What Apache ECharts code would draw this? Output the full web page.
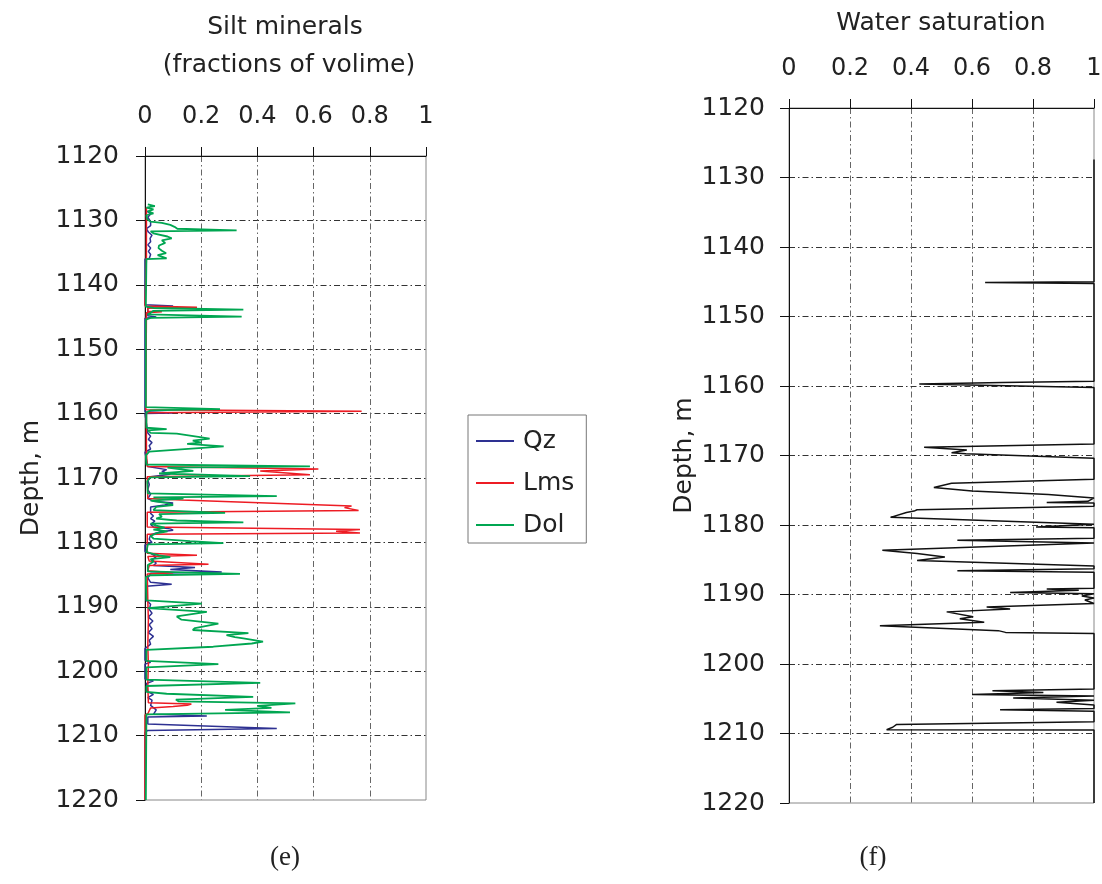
<!DOCTYPE html>
<html>
<head>
<meta charset="utf-8">
<script src="https://cdn.jsdelivr.net/npm/echarts@6/dist/echarts.min.js"></script>
<style>
html,body{margin:0;padding:0;background:#fff;}
#chart{width:1102px;height:884px;}
</style>
</head>
<body>
<div id="chart"></div>
<script>
// ---- Data (depth in m, values as fractions) ----
var depthTicks = [1120, 1130, 1140, 1150, 1160, 1170, 1180, 1190, 1200, 1210, 1220];
var fracTicks = [0, 0.2, 0.4, 0.6, 0.8, 1];
var legendNames = ['Qz', 'Lms', 'Dol'];

var qzDepth = [1128.5,1129.0,1129.5,1130.2,1130.8,1131.3,1131.8,1132.3,1132.8,1133.3,1133.8,1134.3,1134.8,1135.3,1135.9,1136.0,
  1143.1,1143.3,1143.45,1144.8,1145.0,1145.2,1159.7,1159.9,1160.0,
  1163.0,1163.5,1164.0,1164.5,1165.0,1165.5,1166.0,
  1168.2,1168.7,1169.0,1169.4,1169.8,1170.3,1171.0,1171.8,1172.5,1173.2,1173.6,1173.9,1174.2,1174.5,
  1175.5,1175.9,1176.3,1176.7,1177.2,1177.6,1177.9,1178.1,1178.4,1178.8,1179.5,1180.0,1180.4,
  1181.4,1181.7,1182.2,1182.7,1183.2,1183.6,1183.9,1184.2,1184.6,1184.8,1185.5,1186.2,1186.5,1186.8,
  1189.0,1189.6,1190.4,1191.0,1191.6,1192.2,1192.8,1193.4,1194.0,1194.6,1195.2,1195.8,1196.5,
  1198.3,1198.6,1198.9,1201.2,1201.5,1201.9,1203.2,1203.6,1204.1,1204.5,1205.3,1206.0,1206.7,1206.95,1207.1,
  1208.2,1208.9,1209.2,1209.5,1220];
var qzFrac = [0.005,0.02,0.01,0.02,0.02,0.005,0.012,0.025,0.018,0.02,0.01,0.02,0.012,0.02,0.015,0.0,
  0.0,0.1,0.01,0.01,0.04,0.0,0.0,0.1,0.0,
  0.01,0.02,0.012,0.025,0.015,0.02,0.0,
  0.01,0.077,0.06,0.09,0.02,0.01,0.015,0.01,0.02,0.01,0.03,0.1,0.07,0.02,
  0.02,0.03,0.02,0.035,0.02,0.03,0.09,0.1,0.05,0.02,0.015,0.025,0.0,
  0.0,0.02,0.04,0.025,0.04,0.03,0.178,0.09,0.273,0.02,0.01,0.02,0.095,0.005,
  0.005,0.02,0.015,0.025,0.012,0.028,0.015,0.025,0.012,0.03,0.015,0.02,0.0,
  0.0,0.02,0.0,0.0,0.03,0.005,0.01,0.03,0.01,0.025,0.02,0.04,0.03,0.22,0.01,
  0.01,0.469,0.01,0.0,0.0];

var lmsDepth = [1128.0,1136.0,1136.1,1143.3,1143.5,1143.65,1144.1,1144.2,1144.35,
  1159.4,1159.65,1159.85,1163.0,1166.0,
  1168.2,1168.6,1168.9,1169.5,1169.8,
  1173.2,1173.4,1174.35,1174.6,1175.05,1175.3,
  1177.6,1178.0,1178.25,1178.55,1178.75,
  1181.7,1182.0,1182.2,1182.9,1183.4,1183.6,1184.4,1184.7,1184.9,
  1189.0,1192.0,1196.0,1199.0,1202.0,1204.9,1205.1,1205.3,1205.5,1205.7,1206.6,1206.8,1220];
var lmsFrac = [0.005,0.005,0.0,0.0,0.185,0.01,0.01,0.06,0.005,
  0.003,0.771,0.005,0.005,0.005,
  0.008,0.617,0.41,0.587,0.008,
  0.01,0.13,0.735,0.71,0.76,0.008,
  0.008,0.765,0.68,0.765,0.008,
  0.008,0.185,0.01,0.015,0.226,0.015,0.01,0.1,0.008,
  0.01,0.012,0.01,0.012,0.01,0.012,0.165,0.15,0.1,0.02,0.01,0.0,0.0];

var dolDepth = [1127.5,1127.8,1128.0,1128.3,1128.6,1128.9,1129.2,1129.8,1130.2,1130.4,1130.7,1131.0,1131.3,1131.55,1131.7,
  1132.0,1132.5,1132.8,1133.1,1133.5,1133.9,1134.3,1134.7,1135.1,1135.4,1135.9,1136.0,
  1143.4,1143.6,1143.85,1144.05,1144.6,1144.95,1145.15,1145.4,
  1159.0,1159.3,1159.5,1159.8,
  1162.2,1162.4,1162.6,1163.0,1163.1,1163.6,1163.9,1164.2,1164.5,1164.7,1165.1,1165.9,1166.5,
  1167.9,1168.2,1168.4,1168.9,1169.3,1169.7,1169.9,1170.5,
  1172.4,1172.8,1173.0,1173.2,1173.5,1173.9,1174.2,1174.5,1175.0,1175.4,1175.6,1176.0,1176.3,1176.6,1176.9,
  1177.1,1177.4,1177.7,1178.0,1178.3,1178.6,1179.0,1179.4,1179.8,1180.1,1180.3,
  1181.5,1182.0,1182.3,1182.6,1183.0,1183.5,1184.5,1184.9,1185.1,1185.4,
  1189.0,1189.5,1190.2,1190.8,1191.5,1192.0,1192.6,1193.3,1193.6,1194.1,1194.4,1194.7,1194.9,1195.4,1195.7,1196.2,1196.7,
  1198.4,1198.9,1199.4,1201.3,1201.8,1202.3,
  1203.2,1203.5,1204.0,1204.4,1204.7,1205.0,1205.4,1205.7,1206.0,1206.4,1206.7,1220];
var dolFrac = [0.01,0.035,0.005,0.03,0.01,0.03,0.005,0.008,0.02,0.06,0.09,0.105,0.115,0.326,0.02,
  0.03,0.08,0.095,0.06,0.072,0.05,0.048,0.06,0.075,0.045,0.077,0.005,
  0.003,0.03,0.35,0.03,0.01,0.344,0.02,0.003,
  0.003,0.267,0.02,0.005,
  0.005,0.077,0.01,0.02,0.113,0.19,0.23,0.17,0.2,0.15,0.28,0.015,0.003,
  0.005,0.587,0.08,0.172,0.05,0.374,0.02,0.008,
  0.01,0.469,0.03,0.137,0.02,0.08,0.1,0.04,0.03,0.285,0.05,0.06,0.04,0.113,0.35,
  0.02,0.04,0.07,0.03,0.08,0.04,0.02,0.03,0.16,0.279,0.01,
  0.005,0.05,0.09,0.02,0.03,0.01,0.01,0.338,0.02,0.003,
  0.005,0.202,0.01,0.22,0.113,0.13,0.261,0.178,0.17,0.368,0.29,0.32,0.35,0.42,0.38,0.243,0.005,
  0.005,0.261,0.005,0.005,0.41,0.005,
  0.005,0.077,0.385,0.11,0.12,0.535,0.4,0.45,0.285,0.516,0.005,0.003];

var swDepth = [1127.4,1145.0,1145.1,1145.25,1159.3,1159.5,1159.7,1160.2,
  1168.35,1168.8,1169.2,1169.6,1169.75,1170.4,
  1173.4,1174.0,1174.6,1175.1,1175.6,1176.1,1176.6,1176.75,1176.85,
  1177.3,1177.8,1178.0,1178.2,1178.9,1179.9,1180.1,1180.3,1180.4,
  1181.9,1182.2,1182.6,1182.8,1183.65,1184.1,1184.6,1185.1,1185.9,1186.3,1186.6,1186.8,
  1189.1,1189.2,1189.4,1189.7,1189.9,1190.2,1190.5,1190.8,1191.3,1191.8,1192.1,1192.5,1193.2,1193.5,1194.0,1194.5,1195.2,1195.45,1195.6,
  1203.6,1203.85,1204.1,1204.4,1204.6,1204.9,1205.2,1205.5,1205.9,1206.4,1206.6,1206.8,
  1208.3,1208.7,1209.1,1209.45,1209.5,1220];
var swValue = [1,1,0.643,1,1,0.7,0.427,1,
  1,0.443,0.583,0.533,0.58,1,
  1,0.533,0.475,0.6,0.85,1,0.98,0.845,1,
  1,0.42,0.41,0.385,0.333,1,1,0.81,1,
  1,0.552,1,1,0.306,0.42,0.511,0.42,1,1,0.552,1,
  1,0.845,0.95,0.725,1,0.96,1,0.97,1,0.648,0.725,0.517,0.604,0.56,0.64,0.298,0.686,0.71,1,
  1,0.667,0.834,0.6,1,0.735,1,0.877,1,1,0.692,1,
  1,0.353,0.34,0.32,1,1];

function pts(vals, depths) {
  return depths.map(function (d, i) { return [vals[i], d]; });
}

var FONT = 'DejaVu Sans';
var chart = echarts.init(document.getElementById('chart'));

function xAx(gi) {
  return {
    gridIndex: gi, type: 'value', position: 'top',
    min: fracTicks[0], max: fracTicks[fracTicks.length - 1], interval: 0.2,
    axisLine: { show: true, onZero: false, lineStyle: { color: '#111', width: 1 } },
    axisTick: { show: true, inside: false, length: 9, lineStyle: { color: '#111' } },
    axisLabel: { margin: 27, fontSize: 24, color: '#222', fontFamily: FONT,
      formatter: function (v) { return String(v); } },
    splitLine: { show: true, showMinLine: false, showMaxLine: false,
      lineStyle: { color: '#666', width: 1, type: [6, 3, 1.5, 3] } }
  };
}
function yAx(gi, gap, lblMargin) {
  return {
    gridIndex: gi, type: 'value', inverse: true,
    min: depthTicks[0], max: depthTicks[depthTicks.length - 1], interval: 10,
    name: 'Depth, m', nameLocation: 'middle', nameGap: gap,
    nameTextStyle: { fontSize: 25, color: '#222', fontFamily: FONT },
    axisLine: { show: true, onZero: false, lineStyle: { color: '#111', width: 1 } },
    axisTick: { show: true, inside: false, length: 9, lineStyle: { color: '#111' } },
    axisLabel: { margin: lblMargin, fontSize: 25, color: '#222', fontFamily: FONT,
      formatter: function (v) { return String(v); } },
    splitLine: { show: true, showMinLine: false, showMaxLine: false,
      lineStyle: { color: '#333', width: 1, type: [6, 3, 1.5, 3] } }
  };
}

chart.setOption({
  backgroundColor: '#fff',
  animation: false,
  grid: [
    { left: 145, top: 156, width: 281, height: 644, show: true, borderColor: '#888', borderWidth: 1, backgroundColor: 'transparent', outerBoundsMode: 'none' },
    { left: 789, top: 108, width: 305, height: 695, show: true, borderColor: '#888', borderWidth: 1, backgroundColor: 'transparent', outerBoundsMode: 'none' }
  ],
  xAxis: [xAx(0), xAx(1)],
  yAxis: [yAx(0, 101, 26), yAx(1, 84, 24)],
  legend: {
    data: legendNames,
    orient: 'vertical', left: 468, top: 415,
    padding: [12, 12, 4, 8],
    icon: 'rect',
    itemWidth: 38, itemHeight: 2, itemGap: 14,
    borderColor: '#777', borderWidth: 1,
    textStyle: { fontSize: 25, color: '#222', fontFamily: FONT, lineHeight: 28, padding: [0, 0, 0, 4] }
  },
  graphic: [
    { type: 'text', x: 285, y: 27, style: { text: 'Silt minerals', font: '25px "DejaVu Sans"', fill: '#222', textAlign: 'center', textVerticalAlign: 'middle' } },
    { type: 'text', x: 289, y: 65, style: { text: '(fractions of volime)', font: '25px "DejaVu Sans"', fill: '#222', textAlign: 'center', textVerticalAlign: 'middle' } },
    { type: 'text', x: 941, y: 23, style: { text: 'Water saturation', font: '25px "DejaVu Sans"', fill: '#222', textAlign: 'center', textVerticalAlign: 'middle' } },
    { type: 'text', x: 285, y: 858, style: { text: '(e)', font: '27px "Liberation Serif"', fill: '#222', textAlign: 'center', textVerticalAlign: 'middle' } },
    { type: 'text', x: 873, y: 858, style: { text: '(f)', font: '27px "Liberation Serif"', fill: '#222', textAlign: 'center', textVerticalAlign: 'middle' } }
  ],
  series: [
    { name: 'Qz', type: 'line', xAxisIndex: 0, yAxisIndex: 0, symbol: 'none', showSymbol: false,
      lineStyle: { color: '#2e3192', width: 1.5 }, itemStyle: { color: '#2e3192' }, data: pts(qzFrac, qzDepth) },
    { name: 'Lms', type: 'line', xAxisIndex: 0, yAxisIndex: 0, symbol: 'none', showSymbol: false,
      lineStyle: { color: '#ed1c24', width: 1.5 }, itemStyle: { color: '#ed1c24' }, data: pts(lmsFrac, lmsDepth) },
    { name: 'Dol', type: 'line', xAxisIndex: 0, yAxisIndex: 0, symbol: 'none', showSymbol: false,
      lineStyle: { color: '#00a651', width: 1.8 }, itemStyle: { color: '#00a651' }, data: pts(dolFrac, dolDepth) },
    { name: 'Sw', type: 'line', xAxisIndex: 1, yAxisIndex: 1, symbol: 'none', showSymbol: false,
      lineStyle: { color: '#111', width: 1.5 }, itemStyle: { color: '#111' }, data: pts(swValue, swDepth) }
  ]
});
</script>
</body>
</html>
